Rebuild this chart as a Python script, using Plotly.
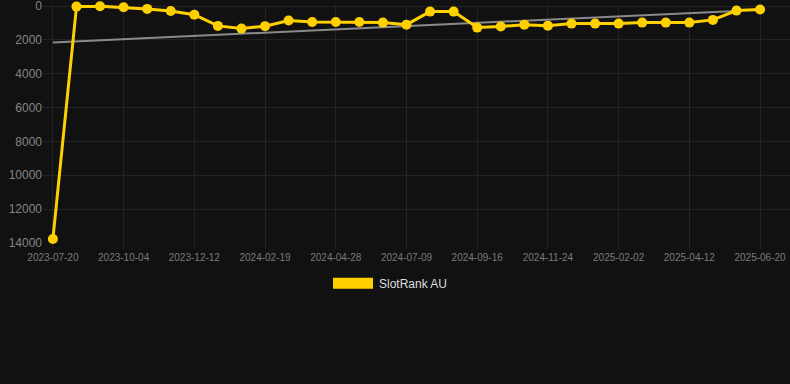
import plotly.graph_objects as go

dates = [
    "2023-07-20", "2023-08-14", "2023-09-09", "2023-10-04", "2023-10-27", "2023-11-19",
    "2023-12-12", "2024-01-04", "2024-01-27", "2024-02-19", "2024-03-13", "2024-04-05",
    "2024-04-28", "2024-05-22", "2024-06-15", "2024-07-09", "2024-08-01", "2024-08-24",
    "2024-09-16", "2024-10-09", "2024-11-01", "2024-11-24", "2024-12-17", "2025-01-09",
    "2025-02-02", "2025-02-25", "2025-03-20", "2025-04-12", "2025-05-05", "2025-05-28",
    "2025-06-20",
]
rank_au = [
    13760, 35, 10, 70, 170, 290,
    510, 1175, 1335, 1190, 860, 940,
    940, 940, 980, 1100, 330, 330,
    1275, 1215, 1100, 1160, 1040, 1040,
    1040, 980, 980, 980, 820, 270,
    210,
]
tick_labels = dates[::3]
trend_x = [dates[0], dates[29]]
trend_y = [2150, 290]
y_ticks = [0, 2000, 4000, 6000, 8000, 10000, 12000, 14000]
y_tick_text = ["0", "2000", "4000", "6000", "8000", "10000", "12000", "14000"]

fig = go.Figure()
fig.add_trace(go.Scatter(
    x=trend_x, y=trend_y, mode="lines",
    line=dict(color="#8a8a8a", width=2), hoverinfo="skip", showlegend=False,
))
fig.add_trace(go.Scatter(
    x=dates, y=rank_au, mode="lines+markers", name="SlotRank AU",
    line=dict(color="#FFD000", width=3),
    marker=dict(color="#FFD000", size=10),
    cliponaxis=False, showlegend=False,
))

fig.update_layout(
    width=790, height=384,
    margin=dict(l=43, r=0, t=5, b=141),
    paper_bgcolor="#111111", plot_bgcolor="#111111",
    font=dict(family="Liberation Sans, Arial, sans-serif", color="#888888"),
    xaxis=dict(
        type="category", categoryorder="array", categoryarray=dates,
        range=[-0.42, 31.27],
        tickvals=tick_labels, ticktext=tick_labels,
        showgrid=True, gridcolor="#232323", gridwidth=1,
        ticks="outside", ticklen=5, tickcolor="#232323",
        tickfont=dict(size=10, color="#7a7a7a"),
        zeroline=False, showline=False,
    ),
    yaxis=dict(
        range=[14000, -60], tickvals=y_ticks, ticktext=y_tick_text,
        showgrid=True, gridcolor="#232323", gridwidth=1,
        tickfont=dict(size=12, color="#858585"),
        zeroline=False, showline=False, ticks="", ticklen=4,
        ticklabeloverflow="allow",
    ),
    shapes=[dict(
        type="rect", xref="paper", yref="paper",
        x0=(333 - 43) / 747, x1=(373 - 43) / 747,
        y0=(243.3 - 289) / 238.3, y1=(243.3 - 278) / 238.3,
        fillcolor="#FFD000", line=dict(width=0),
    )],
    annotations=[dict(
        text="SlotRank AU", xref="paper", yref="paper",
        x=(377 - 43) / 747, y=(243.3 - 284.5) / 238.3,
        xanchor="left", yanchor="middle", showarrow=False,
        font=dict(size=12, color="#dddddd"),
    )],
)

fig.write_html("out.html")
